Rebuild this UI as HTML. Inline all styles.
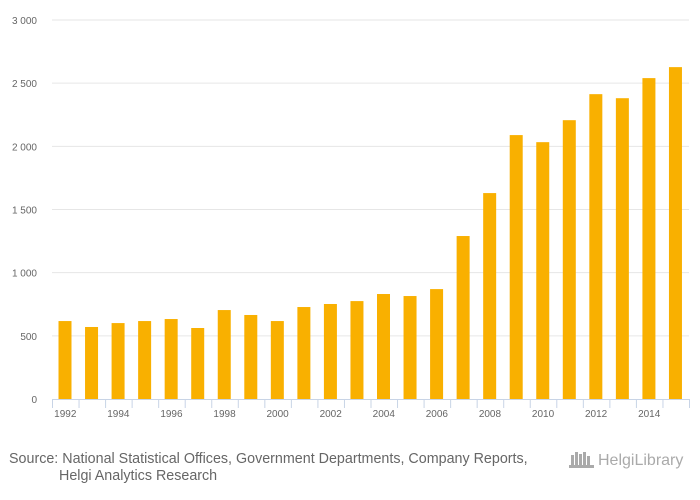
<!DOCTYPE html>
<html><head><meta charset="utf-8"><style>
body{margin:0;width:700px;height:500px;background:#fff;font-family:"Liberation Sans",sans-serif;overflow:hidden}
svg{display:block}
</style></head><body>
<svg id="c" width="700" height="500"></svg>
<script>
const categories=[1992,1993,1994,1995,1996,1997,1998,1999,2000,2001,2002,2003,2004,2005,2006,2007,2008,2009,2010,2011,2012,2013,2014,2015];
const values=[617,570,601,617,633,562,704,665,617,728,752,775,831,815,870,1290,1630,2089,2033,2207,2413,2381,2540,2627];
const yTicks=[0,500,1000,1500,2000,2500,3000];
const yTickLabels=["0","500","1 000","1 500","2 000","2 500","3 000"];
const NS="http://www.w3.org/2000/svg";
const svg=document.getElementById('c');
const x0=52,x1=689,y0=399,y1=20,yMax=3000;
const step=(x1-x0)/categories.length;
const ys=v=>y0-(v/yMax)*(y0-y1);
const xs=i=>x0+i*step;
function mk(t,a,p){const e=document.createElementNS(NS,t);for(const k in a)e.setAttribute(k,a[k]);(p||svg).appendChild(e);return e;}
yTicks.forEach((t,i)=>{
  if(t>0){const g=mk('line',{x1:x0,x2:x1,y1:ys(t),y2:ys(t),stroke:'#e6e6e6','stroke-width':1});
  
  }
  const l=mk('text',{x:37,y:ys(t)+4,'text-anchor':'end','font-size':10,fill:'#666'});
  l.textContent=yTickLabels[i];
  
  
});
values.forEach((v,i)=>{
  const b=mk('rect',{x:xs(i)+6.5,y:ys(v),width:13,height:y0-ys(v),fill:'#f9b000'});
  
  
});
const ax=mk('line',{x1:x0,x2:x1,y1:y0+0.5,y2:y0+0.5,stroke:'#c8d4e6'});


for(let i=0;i<=categories.length;i++){
  const t=mk('line',{x1:xs(i)+0.5,x2:xs(i)+0.5,y1:y0,y2:y0+9,stroke:'#c8d4e6'});
  
  
}
categories.forEach((c,i)=>{
  if(i%2)return;
  const l=mk('text',{x:xs(i)+step/2,y:y0+18,'text-anchor':'middle','font-size':10,fill:'#666'});
  l.textContent=c;
  
  
});
const s1=mk('text',{x:9,y:463,'font-size':14.3,fill:'#666'});
s1.textContent="Source: National Statistical Offices, Government Departments, Company Reports,";


const s2=mk('text',{x:59,y:480,'font-size':14.3,fill:'#666'});
s2.textContent="Helgi Analytics Research";


const lg=mk('text',{x:598,y:465,'font-size':16,fill:'#aaa'});
lg.textContent="HelgiLibrary";


const ic=mk('g',{fill:'#aaa'});


[[571,455,3,10],[575,452,3,13],[579,454,3,11],[583,452,3,13],[587,456,3,9]].forEach(r=>mk('rect',{x:r[0],y:r[1],width:r[2],height:r[3]},ic));
mk('rect',{x:569,y:465,width:25,height:3},ic);
</script>
</body></html>
